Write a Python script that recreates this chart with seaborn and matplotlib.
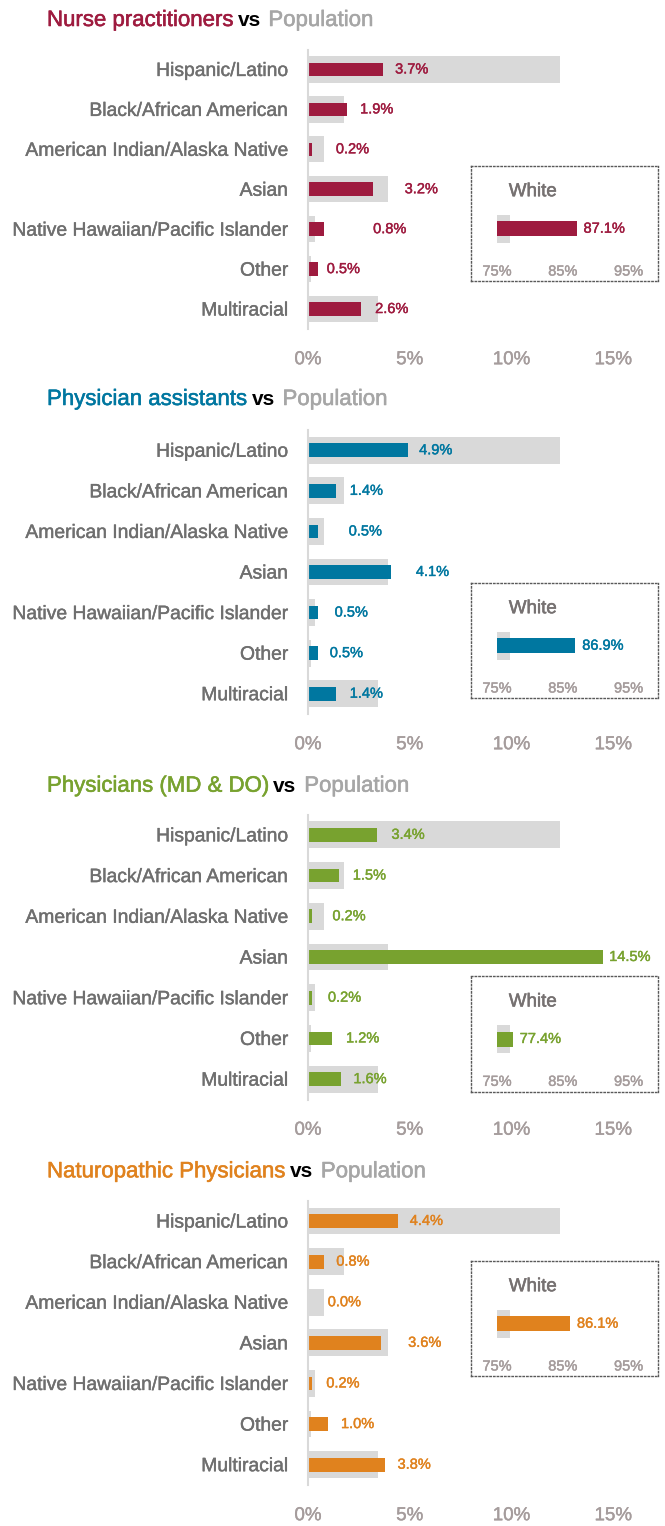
import numpy as np
import pandas as pd
import seaborn as sns
import matplotlib.pyplot as plt
import matplotlib.patheffects as pe

# data
categories = ['Hispanic/Latino', 'Black/African American', 'American Indian/Alaska Native', 'Asian',
              'Native Hawaiian/Pacific Islander', 'Other', 'Multiracial']
population = [12.4, 1.75, 0.8, 3.95, 0.35, 0.15, 3.45]
population_white = 77.0

titles = ['Nurse practitioners', 'Physician assistants', 'Physicians (MD & DO)', 'Naturopathic Physicians']
colors = ['#9E1B3F', '#0077A0', '#78A22F', '#E0821E']

np_values = [3.7, 1.9, 0.2, 3.2, 0.8, 0.5, 2.6]
pa_values = [4.9, 1.4, 0.5, 4.1, 0.5, 0.5, 1.4]
md_values = [3.4, 1.5, 0.2, 14.5, 0.2, 1.2, 1.6]
nd_values = [4.4, 0.8, 0.0, 3.6, 0.2, 1.0, 3.8]
white_values = [87.1, 86.9, 77.4, 86.1]
panel_values = [np_values, pa_values, md_values, nd_values]

x_ticks = [0, 5, 10, 15]
white_ticks = [75, 85, 95]

# where the value labels sit (left edge, in % units) - hand placed like the original
label_x = [
    [4.28, 2.56, 1.37, 4.75, 3.2, 0.92, 3.3],
    [5.46, 2.05, 2.0, 5.3, 1.31, 1.07, 2.05],
    [4.1, 2.2, 1.2, 14.8, 0.98, 1.87, 2.23],
    [5.0, 1.39, 0.97, 4.92, 0.9, 1.62, 4.4],
]

# layout in pixels
W, H = 665, 1526
axes_top = [49.5, 430, 814.5, 1200.7]
axes_bottom = [329, 714, 1099.5, 1485]
title_base = [26, 405, 791.7, 1177.3]
box_top = [165.7, 582.7, 976, 1260.7]
box_h = 115.5

pop_gray = '#D9D9D9'
label_gray = '#6F6F6F'
tick_gray = '#A59C9C'


def heavy(color, lw=0.3):
    # fake a medium weight like the original condensed font
    return [pe.withStroke(linewidth=lw, foreground=color)]


sns.set_style('white')
plt.rcParams['font.family'] = ['Liberation Sans', 'DejaVu Sans']

fig = plt.figure(figsize=(W / 100, H / 100), dpi=100)

for i in range(4):
    top, bot = axes_top[i], axes_bottom[i]
    ax = fig.add_axes([308 / W, 1 - bot / H, 17 * 20.35 / W, (bot - top) / H])
    sns.barplot(x=population, y=categories, orient='h', color=pop_gray, width=0.66,
                saturation=1, linewidth=0, ax=ax)
    sns.barplot(x=panel_values[i], y=categories, orient='h', color=colors[i], width=0.34,
                saturation=1, linewidth=0, ax=ax)
    ax.set_xlim(0, 17)
    ax.set_ylim(6.5, -0.5)
    ax.set(xlabel='', ylabel='')
    ax.set_xticks(x_ticks)
    ax.set_xticklabels([f'{t}%' for t in x_ticks])
    ax.tick_params(axis='x', length=0, pad=16, labelsize=13.5, labelcolor=tick_gray)
    ax.tick_params(axis='y', which='major', length=0, pad=14.4, labelsize=13.9, labelcolor=label_gray)
    ax.set_yticks(np.arange(-0.5, 7, 1), minor=True)
    ax.tick_params(axis='y', which='minor', length=5.8, width=1.2, color=pop_gray)
    for lab in ax.get_xticklabels():
        lab.set_path_effects(heavy(tick_gray, 0.3))
    for lab in ax.get_yticklabels():
        lab.set_path_effects(heavy(label_gray, 0.3))
    for s in ['top', 'right', 'bottom']:
        ax.spines[s].set_visible(False)
    ax.spines['left'].set_color(pop_gray)
    ax.spines['left'].set_linewidth(1.5)

    for j, v in enumerate(panel_values[i]):
        ax.text(label_x[i][j], j, f'{v:.1f}%', color=colors[i], fontsize=10.5,
                ha='left', va='center', path_effects=heavy(colors[i], 0.3))

    # title: colored part + vs + Population, all on one baseline
    yb = 1 - title_base[i] / H
    t1 = fig.text(47 / W, yb, titles[i], color=colors[i], fontsize=16, va='baseline',
                  path_effects=heavy(colors[i], 0.4))
    t2 = ax.annotate('vs', xy=(1, yb), xycoords=(t1, 'figure fraction'), xytext=(2.5, 0),
                     textcoords='offset points', fontsize=15, fontweight='bold', color='black',
                     va='baseline', annotation_clip=False)
    ax.annotate('Population', xy=(1, yb), xycoords=(t2, 'figure fraction'), xytext=(5.5, 0),
                textcoords='offset points', fontsize=16, color='#A6A6A6', va='baseline',
                annotation_clip=False, path_effects=heavy('#A6A6A6', 0.4))

    # White inset
    bt = box_top[i]
    ins = fig.add_axes([471 / W, 1 - (bt + box_h) / H, 187.5 / W, box_h / H])
    ins.barh([63], [population_white - 75], left=75, height=28, color=pop_gray, linewidth=0)
    ins.barh([63], [white_values[i] - 75], left=75, height=15, color=colors[i], linewidth=0)
    ins.set_xlim(71.05, 99.55)
    ins.set_ylim(box_h, 0)
    ins.set_yticks([])
    ins.set_xticks(white_ticks)
    ins.set_xticklabels([f'{t}%' for t in white_ticks])
    ins.tick_params(axis='x', length=0, pad=-12, labelsize=10.5, labelcolor=tick_gray)
    for lab in ins.get_xticklabels():
        lab.set_path_effects(heavy(tick_gray, 0.3))
    ins.text(76.8, 26, 'White', fontsize=13.5, color='#767171', ha='left', va='center',
             path_effects=heavy('#767171', 0.4))
    ins.annotate(f'{white_values[i]:.1f}%', xy=(white_values[i], 63), xytext=(5, 0),
                 textcoords='offset points', color=colors[i], fontsize=10.5, va='center',
                 path_effects=heavy(colors[i], 0.3))
    for s in ins.spines.values():
        s.set_linestyle(':')
        s.set_color('#595959')
        s.set_linewidth(1)

fig.savefig('out.png', dpi=100)
